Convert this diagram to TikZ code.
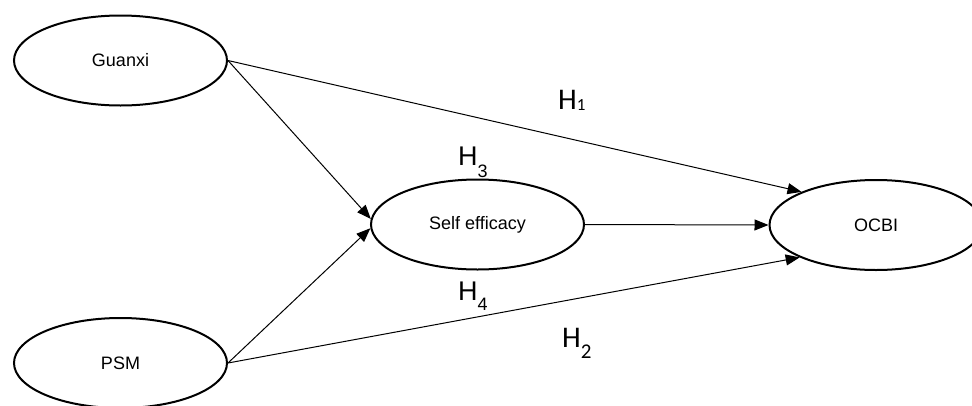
\documentclass[tikz,border=0pt]{standalone}
\usepackage{fontspec}
\setmainfont{Liberation Sans}
\newfontfamily\carlito{Carlito}
\usetikzlibrary{shapes.geometric,arrows.meta}
\begin{document}
\begin{tikzpicture}[x=1pt,y=-1pt,
  latent/.style={ellipse, draw=black, line width=2pt, fill=white, minimum width=213pt, minimum height=90pt, inner sep=0pt, font=\fontsize{18}{18}\selectfont},
  hpath/.style={line width=1pt, -{Triangle[length=14pt,width=11pt]}},
  hlab/.style={anchor=base west, inner sep=0pt}]
\useasboundingbox (0,0) rectangle (972,405);
% labels first so the ellipse covers the foot of H3's subscript
\node[hlab] (h1) at (558,109) {\carlito\fontsize{30}{30}\selectfont H\raisebox{-1pt}{\fontsize{17}{17}\selectfont 1}};
\node[hlab] (h2) at (562,347) {\carlito\fontsize{30}{30}\selectfont H\raisebox{-11pt}{\fontsize{21}{21}\selectfont 2}};
\node[hlab] (h3) at (458,165) {\fontsize{27}{27}\selectfont H\raisebox{-12pt}{\fontsize{18}{18}\selectfont 3}};
\node[hlab] (h4) at (458,300) {\fontsize{27}{27}\selectfont H\raisebox{-10pt}{\fontsize{18}{18}\selectfont 4}};
% constructs
\node[latent] (g) at (120.5,60.5) {Guanxi};
\node[latent] (p) at (120.5,363) {PSM};
\node[latent] (s) at (477.5,224.5) {Self efficacy};
\node[latent] (o) at (876,225) {OCBI};
% paths
\draw[hpath] (g.east) -- (o.156);
\draw[hpath] (g.east) -- (s.177);
\draw[hpath] (p.east) -- (s.182);
\draw[hpath] (p.east) -- (o.203);
\draw[hpath] (s.east) -- (o.west);
\end{tikzpicture}
\end{document}
